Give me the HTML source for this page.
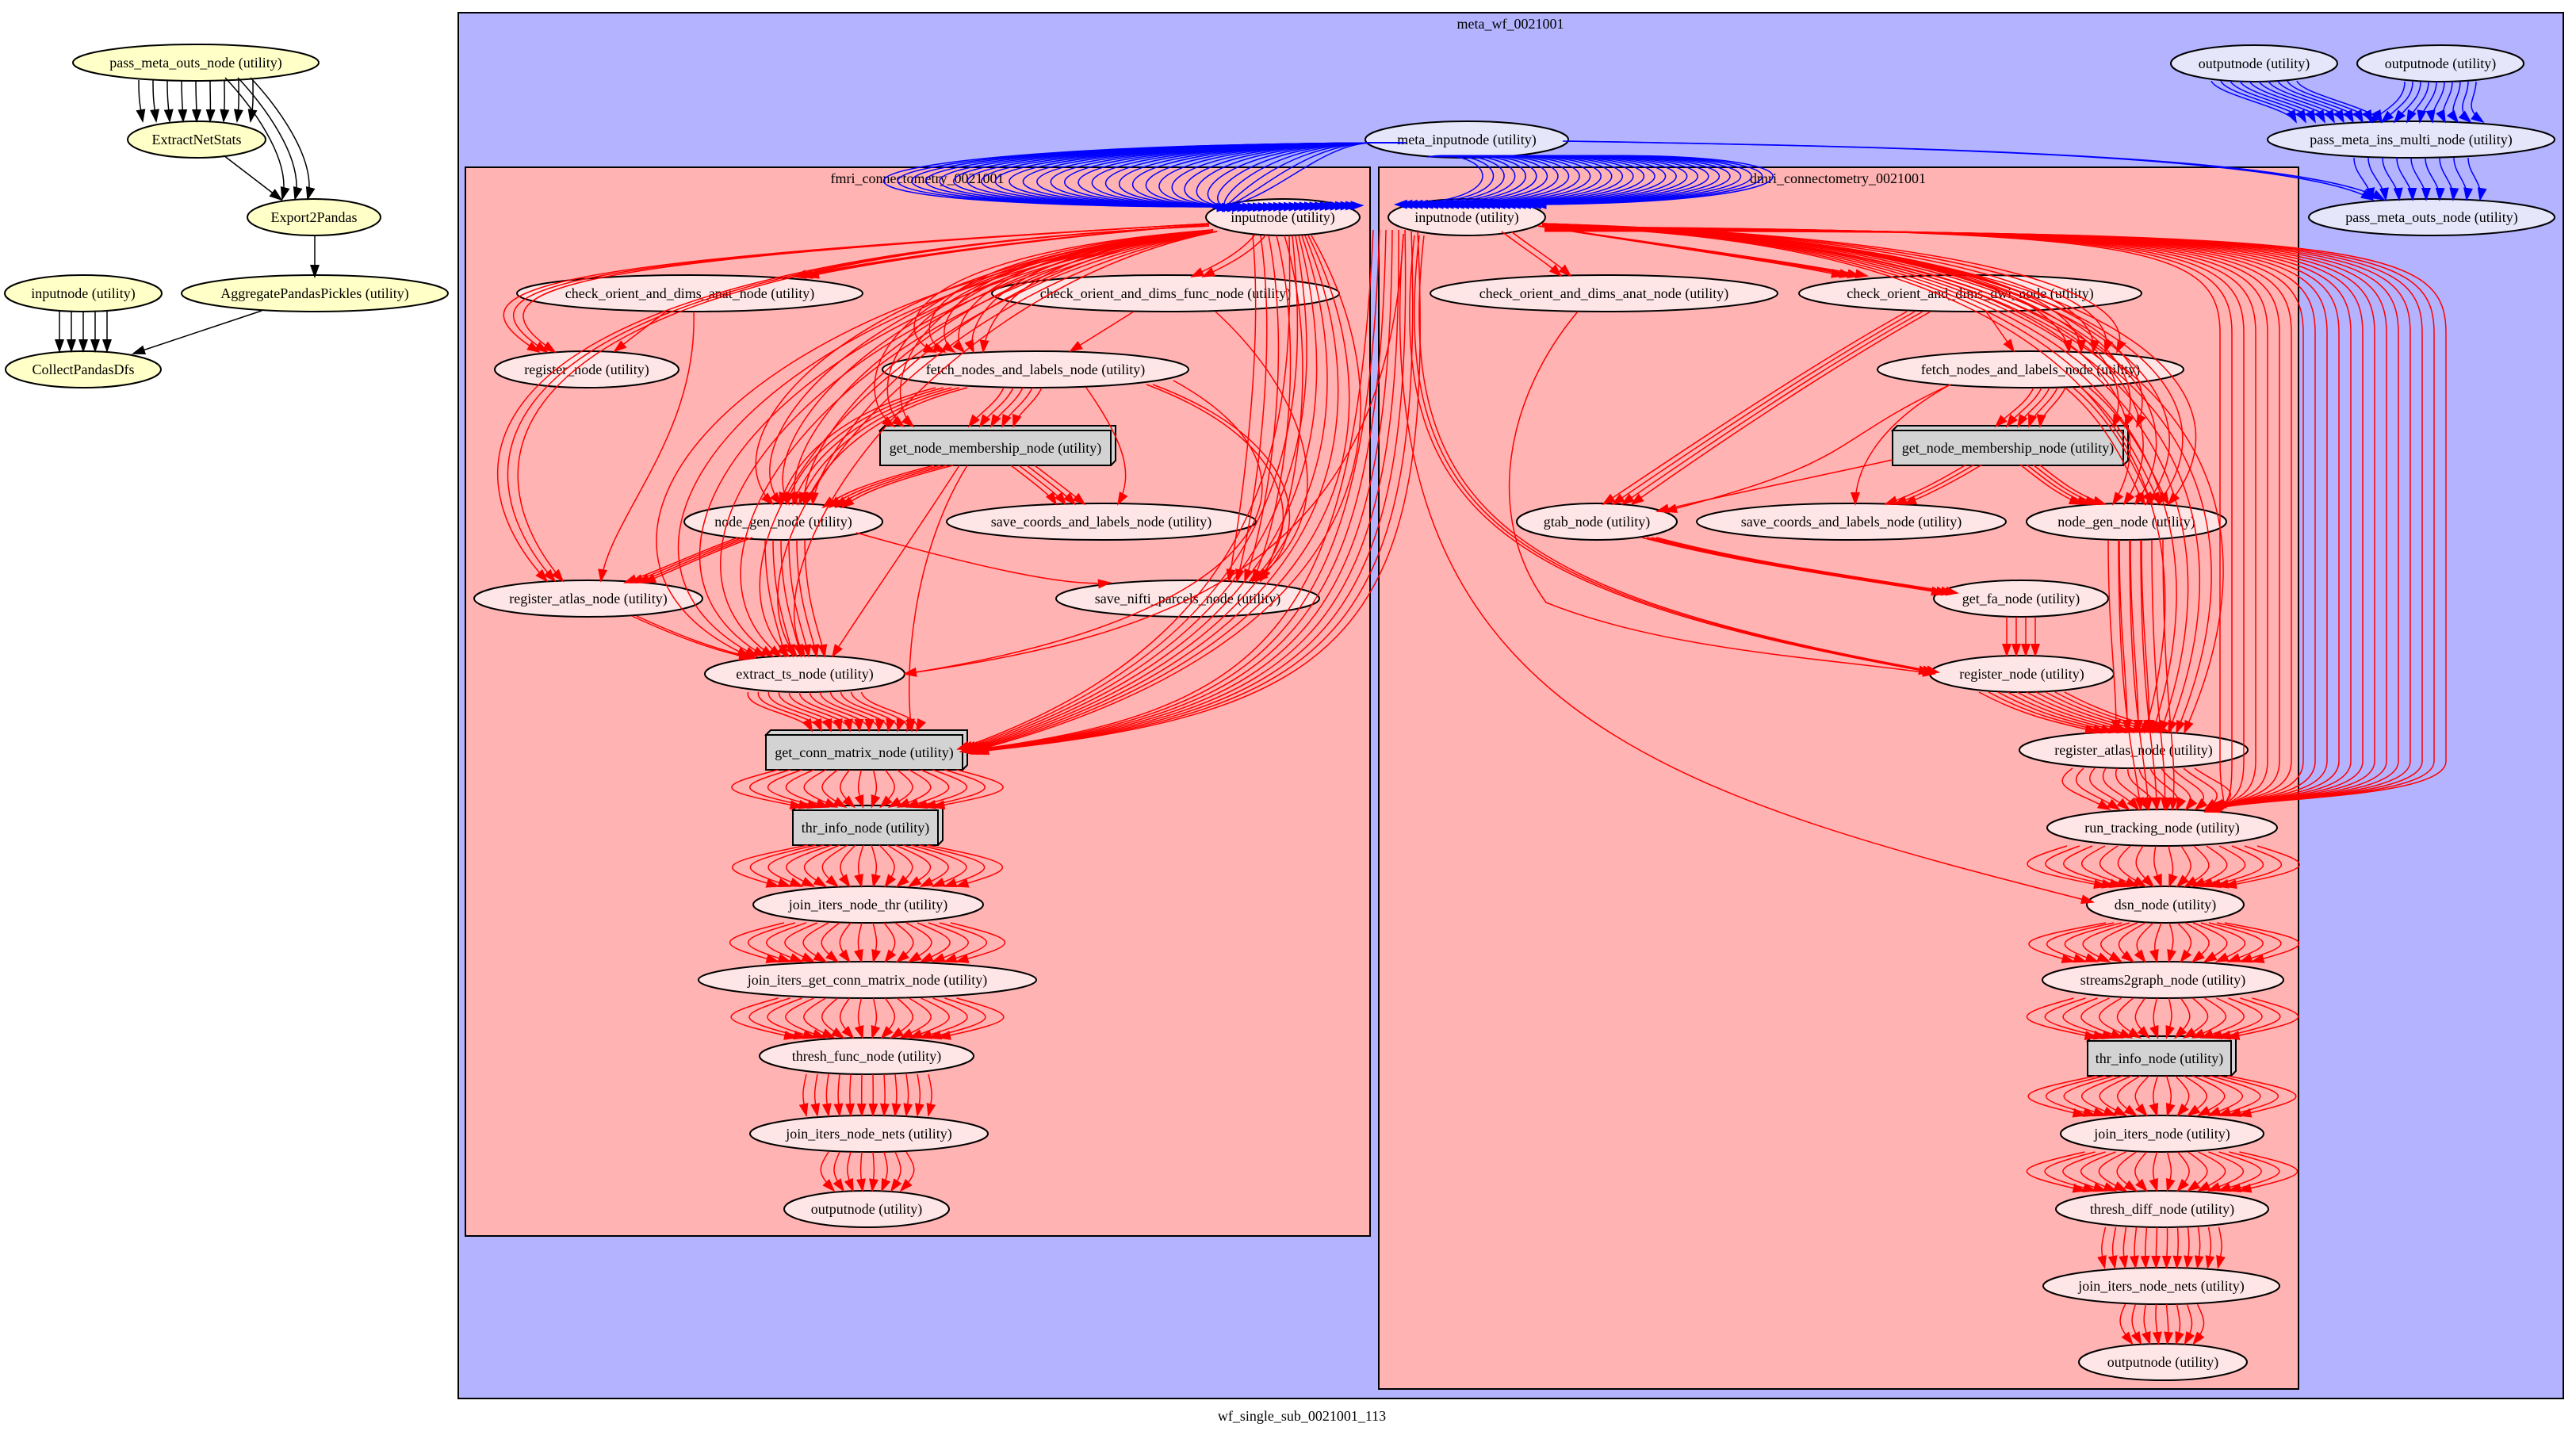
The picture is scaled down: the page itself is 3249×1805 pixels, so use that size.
<!DOCTYPE html>
<html><head><meta charset="utf-8"><style>
html,body{margin:0;padding:0;background:#fff;}
svg{display:block;}
text{font-family:"Liberation Serif",serif;font-size:18px;fill:#000;}
</style></head><body>
<svg id="s" xmlns="http://www.w3.org/2000/svg" width="3249" height="1805" viewBox="0 0 3249 1805">
<defs>
<marker id="aR" markerUnits="userSpaceOnUse" markerWidth="17" markerHeight="12" refX="15" refY="6" orient="auto"><path d="M0,0 L17,6 L0,12 z" fill="#ff0000"/></marker>
<marker id="aB" markerUnits="userSpaceOnUse" markerWidth="17" markerHeight="12" refX="15" refY="6" orient="auto"><path d="M0,0 L17,6 L0,12 z" fill="#0000ff"/></marker>
<marker id="aK" markerUnits="userSpaceOnUse" markerWidth="17" markerHeight="12" refX="15" refY="6" orient="auto"><path d="M0,0 L17,6 L0,12 z" fill="#000"/></marker>
</defs>
<rect x="0" y="0" width="3249" height="1805" fill="#fff"/>
<rect x="578" y="16" width="2655" height="1748" fill="#b3b3ff" stroke="#000" stroke-width="2"/>
<text x="1905" y="36" text-anchor="middle">meta_wf_0021001</text>
<rect x="587" y="211" width="1141" height="1348" fill="#ffb3b3" stroke="#000" stroke-width="2"/>
<text x="1157" y="231" text-anchor="middle">fmri_connectometry_0021001</text>
<rect x="1739" y="211" width="1160" height="1541" fill="#ffb3b3" stroke="#000" stroke-width="2"/>
<text x="2318" y="231" text-anchor="middle">dmri_connectometry_0021001</text>
<text x="1642" y="1792" text-anchor="middle">wf_single_sub_0021001_113</text>
<g id="nodes"></g>
<g id="edges" fill="none" stroke-width="1.5"></g>
</svg>
<script>
var NS="http://www.w3.org/2000/svg";
var ng=document.getElementById('nodes'), eg=document.getElementById('edges');
function el(p,t,a,txt){var e=document.createElementNS(NS,t);for(var k in a)e.setAttribute(k,a[k]);if(txt)e.textContent=txt;p.appendChild(e);return e;}
var Y='#ffffc8',L='#e6e6fa',P='#ffe6e6';
function N(cx,cy,rx,fill,t){el(ng,'ellipse',{cx:cx,cy:cy,rx:rx,ry:23,fill:fill,stroke:'#000','stroke-width':2});el(ng,'text',{x:cx,y:cy+6,'text-anchor':'middle'},t);}
function BX(x1,y1,x2,y2,t){el(ng,'path',{d:'M'+x1+','+y1+' l6,-6 L'+(x2+6)+','+(y1-6)+' L'+(x2+6)+','+(y2-6)+' L'+x2+','+y2+' z',fill:'#d3d3d3',stroke:'#000','stroke-width':2});el(ng,'rect',{x:x1,y:y1,width:x2-x1,height:y2-y1,fill:'#d3d3d3',stroke:'#000','stroke-width':2});el(ng,'text',{x:(x1+x2)/2,y:(y1+y2)/2+6,'text-anchor':'middle'},t);}
N(247,79,155,Y,'pass_meta_outs_node (utility)');N(248,176,87,Y,'ExtractNetStats');N(396,274,84,Y,'Export2Pandas');
N(105,370,99,Y,'inputnode (utility)');N(397,370,168,Y,'AggregatePandasPickles (utility)');N(105,466,98,Y,'CollectPandasDfs');
N(1850,176,128,L,'meta_inputnode (utility)');N(2843,80,105,L,'outputnode (utility)');N(3078,80,105,L,'outputnode (utility)');
N(3041,176,181,L,'pass_meta_ins_multi_node (utility)');N(3067,274,155,L,'pass_meta_outs_node (utility)');
N(1618,274,97,P,'inputnode (utility)');N(870,370,218,P,'check_orient_and_dims_anat_node (utility)');N(1470,370,219,P,'check_orient_and_dims_func_node (utility)');
N(740,466,116,P,'register_node (utility)');N(1306,466,193,P,'fetch_nodes_and_labels_node (utility)');
BX(1110,543,1401,587,'get_node_membership_node (utility)');
N(988,658,125,P,'node_gen_node (utility)');N(1389,658,195,P,'save_coords_and_labels_node (utility)');
N(742,755,144,P,'register_atlas_node (utility)');N(1498,755,166,P,'save_nifti_parcels_node (utility)');
N(1015,850,126,P,'extract_ts_node (utility)');BX(966,927,1214,971,'get_conn_matrix_node (utility)');
BX(1000,1022,1183,1066,'thr_info_node (utility)');N(1095,1141,145,P,'join_iters_node_thr (utility)');
N(1094,1236,213,P,'join_iters_get_conn_matrix_node (utility)');N(1093,1332,135,P,'thresh_func_node (utility)');
N(1096,1430,150,P,'join_iters_node_nets (utility)');N(1093,1525,104,P,'outputnode (utility)');
N(1850,274,99,P,'inputnode (utility)');N(2023,370,219,P,'check_orient_and_dims_anat_node (utility)');N(2485,370,216,P,'check_orient_and_dims_dwi_node (utility)');
N(2561,466,193,P,'fetch_nodes_and_labels_node (utility)');BX(2387,543,2678,587,'get_node_membership_node (utility)');
N(2014,658,101,P,'gtab_node (utility)');N(2335,658,195,P,'save_coords_and_labels_node (utility)');N(2682,658,126,P,'node_gen_node (utility)');
N(2549,755,110,P,'get_fa_node (utility)');N(2550,850,116,P,'register_node (utility)');N(2691,946,144,P,'register_atlas_node (utility)');
N(2727,1044,145,P,'run_tracking_node (utility)');N(2731,1141,99,P,'dsn_node (utility)');N(2728,1236,152,P,'streams2graph_node (utility)');
BX(2633,1313,2814,1357,'thr_info_node (utility)');N(2727,1430,128,P,'join_iters_node (utility)');N(2727,1525,134,P,'thresh_diff_node (utility)');
N(2726,1622,149,P,'join_iters_node_nets (utility)');N(2728,1718,106,P,'outputnode (utility)');
function pth(d,c){var m=c=='#ff0000'?'aR':(c=='#0000ff'?'aB':'aK');el(eg,'path',{d:d,stroke:c,'marker-end':'url(#'+m+')'});}
function B(c,n,x1,y1,c1x,c1y,c2x,c2y,x2,y2,so,co,eo){for(var i=0;i<n;i++){var s=i-(n-1)/2;
pth('M'+(x1+s*so)+','+y1+' C'+(c1x+s*co)+','+c1y+' '+(c2x+s*co)+','+c2y+' '+(x2+s*eo)+','+y2,c);}}
function F(c,n,sx,sy,dx,dy,so,eo,co){var g=dy-sy;B(c,n,sx,sy,sx,sy+g*0.45,dx,dy-g*0.45,dx,dy,so,co,eo);}
var K='#000',R='#ff0000',BL='#0000ff';
B(K,9,247,101,247,125,248,130,248,153,18,18,17);
B(K,3,300,98,330,130,385,200,372,251,16,16,16);
pth('M282,196 L355,252',K);pth('M397,297 L397,349',K);
B(K,5,105,393,105,415,105,425,105,443,15,15,15);pth('M330,392 L168,446',K);
for(var i=0;i<30;i++){pth('M'+(1730+i*1.5)+',180 C'+(1660-i*25)+',182 '+(1600-i*25)+','+(260+i*0.5)+' '+(1530+i*6.5)+','+(262-i*0.1),BL);}
for(var i=0;i<28;i++){pth('M'+(1800+i*6)+',198 C'+(1880+i*16)+',185 '+(1920+i*16)+','+(255)+' '+(1760+i*6.5)+',258',BL);}
B(BL,2,1975,178,2400,185,2900,195,3000,252,8,8,14);
B(BL,10,2843,102,2850,120,2940,135,2950,154,12,12,12);
B(BL,10,3078,103,3078,125,3060,135,3060,154,10,10,16);
B(BL,9,3041,199,3041,220,3060,230,3060,252,18,18,17);
B(R,3,1525,282,700,330,560,360,690,444,0,15,10);
B(R,3,1525,285,550,330,580,600,700,733,0,15,10);
B(R,3,1525,283,1300,300,1100,330,1010,349,0,5,8);
B(R,2,1590,296,1570,320,1540,335,1510,349,14,14,14);
B(R,6,1530,290,1200,320,1180,420,1210,444,0,25,12);
B(R,3,1530,292,1100,330,1090,500,1140,538,0,20,12);
B(R,6,1530,290,1150,330,960,550,1000,636,0,30,10);
B(R,8,1535,292,1050,360,800,700,980,828,0,40,10);
B(R,5,1600,297,1630,450,1600,650,1570,733,10,18,10);
B(R,8,1640,297,1700,500,1700,800,1222,945,4,20,4);
B(R,8,1760,290,1760,800,1650,900,1222,948,8,15,3);
pth('M1770,295 C1750,700 1500,800 1141,850',R);
pth('M840,393 L775,443',R);
pth('M875,393 C880,550 770,650 758,733',R);
pth('M1430,393 L1350,443',R);
pth('M1533,393 C1650,500 1700,650 1580,733',R);
B(R,5,1290,489,1280,510,1260,520,1250,538,12,12,14);
B(R,5,1200,489,1080,520,1020,580,1000,636,10,10,8);
pth('M1370,489 C1420,560 1430,600 1410,636',R);
B(R,2,1450,485,1650,560,1650,680,1580,733,8,8,8);
pth('M1480,480 C1700,600 1600,780 1141,850',R);
B(R,4,1190,587,1100,610,1070,625,1050,640,8,8,8);
B(R,4,1290,587,1320,610,1340,625,1350,636,10,10,12);
pth('M1210,587 C1150,680 1080,780 1050,828',R);
pth('M1220,587 C1150,700 1140,850 1150,922',R);
B(R,4,940,678,880,700,840,720,800,735,6,6,8);
B(R,6,990,681,990,760,1010,800,1015,828,10,10,10);
pth('M1080,672 C1250,720 1350,740 1400,735',R);
B(R,2,800,777,850,800,900,820,950,830,6,6,6);
F(R,12,1015,873,1090,922,13,12,14);
F(R,16,1094,971,1094,1018,15,11,26);
F(R,16,1094,1066,1094,1118,10,15,26);
F(R,16,1094,1164,1094,1213,14,15,26);
F(R,16,1094,1259,1094,1309,15,12,26);
F(R,12,1094,1355,1094,1407,14,14,15);
F(R,8,1094,1453,1094,1502,14,12,18);
B(R,2,1900,292,1930,315,1955,330,1975,348,12,12,12);
B(R,4,1940,285,2100,310,2250,330,2340,348,0,5,10);
B(R,5,1945,282,2500,300,2650,380,2640,444,0,25,15);
B(R,3,1945,283,2600,300,2720,450,2680,538,0,15,15);
B(R,6,1945,284,2650,300,2800,500,2700,636,0,20,14);
B(R,6,1948,286,2700,300,2850,600,2730,924,0,20,10);
for(var i=0;i<20;i++){var X=2800+i*15;pth('M1948,'+(286+i*0.3)+' C'+(X-100)+',290 '+X+',310 '+X+',420 L'+X+',960 C'+X+',1010 '+(2810+i*0.5)+',1005 '+(2800-i*1)+',1024',R);}
B(R,3,1790,297,1750,650,1900,750,2440,848,6,6,5);
pth('M1770,296 C1720,900 2100,1000 2640,1138',R);
pth('M1990,393 C1900,500 1870,650 1950,760 C2100,820 2300,830 2440,850',R);
B(R,4,2420,393,2300,460,2150,560,2040,636,10,10,12);
pth('M2505,393 L2540,443',R);
B(R,5,2585,489,2575,510,2555,520,2545,538,10,10,14);
pth('M2460,485 C2360,540 2340,600 2340,636',R);
pth('M2460,485 C2300,560 2350,580 2100,645',R);
B(R,4,2620,489,2680,540,2700,600,2720,636,10,10,10);
pth('M2387,580 C2250,610 2150,630 2090,645',R);
B(R,3,2490,586,2450,610,2420,625,2390,636,10,10,12);
B(R,4,2560,586,2590,610,2610,625,2640,636,8,8,10);
B(R,4,2080,678,2200,710,2350,730,2460,748,6,6,6);
B(R,4,2549,778,2549,800,2549,805,2549,827,12,12,12);
B(R,10,2550,873,2600,900,2640,910,2690,923,12,12,10);
B(R,4,2680,681,2680,800,2690,850,2690,923,14,14,14);
B(R,5,2700,681,2700,900,2720,950,2720,1021,14,14,10);
F(R,12,2691,969,2727,1021,14,12,20);
F(R,16,2727,1067,2731,1118,16,10,26);
F(R,16,2731,1164,2728,1213,10,15,26);
F(R,16,2728,1259,2727,1309,15,11,26);
F(R,16,2727,1357,2727,1407,11,13,26);
F(R,16,2727,1453,2727,1502,13,13,26);
F(R,12,2727,1548,2726,1599,13,13,14);
F(R,8,2726,1645,2728,1695,13,11,16);
</script>
</body></html>
